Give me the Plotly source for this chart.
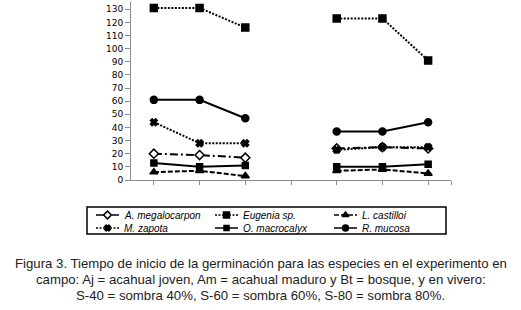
import plotly.graph_objects as go

# Categories (blank slot separates campo and vivero)
categories = ["Aj", "Am", "Bt", "", "S-40", "S-60", "S-80"]
y_ticks = [0, 10, 20, 30, 40, 50, 60, 70, 80, 90, 100, 110, 120, 130]

species = ["A. megalocarpon", "Eugenia sp.", "L. castilloi",
           "M. zapota", "O. macrocalyx", "R. mucosa"]

a_megalocarpon = [20, 19, 17, None, 24, 25, 24]
eugenia = [131, 131, 116, None, 123, 123, 91]
l_castilloi = [6, 7, 3, None, 7, 8, 5]
m_zapota = [44, 28, 28, None, 23, 25, 25]
o_macrocalyx = [13, 10, 11, None, 10, 10, 12]
r_mucosa = [61, 61, 47, None, 37, 37, 44]

values = [a_megalocarpon, eugenia, l_castilloi, m_zapota, o_macrocalyx, r_mucosa]

caption_lines = [
    "Figura 3. Tiempo de inicio de la germinación para las especies en el experimento en",
    "campo: Aj = acahual joven, Am = acahual maduro y Bt = bosque, y en vivero:",
    "S-40 = sombra 40%, S-60 = sombra 60%, S-80 = sombra 80%.",
]

styles = [
    dict(dash="8px,3px,2px,3px", symbol="diamond", mcolor="white", size=7),
    dict(dash="2px,1.5px", symbol="square", mcolor="black", size=7),
    dict(dash="5px,2px", symbol="triangle-up", mcolor="black", size=7),
    dict(dash="2px,1.5px", symbol="x", mcolor="black", size=6),
    dict(dash="solid", symbol="square", mcolor="black", size=6),
    dict(dash="solid", symbol="circle", mcolor="black", size=7),
]

x_pos = [i + 1 for i in range(len(categories))]

W, H = 521, 310
# plot area in pixels
PX0, PX1, PY0, PY1 = 131, 451, 2, 180
# legend box in pixels
LX0, LX1, LY0, LY1 = 87, 446, 207, 234

fig = go.Figure()
for name, vals, st in zip(species, values, styles):
    fig.add_trace(go.Scatter(
        x=x_pos, y=vals, name=name, mode="lines+markers",
        connectgaps=False, showlegend=False,
        line=dict(color="black", width=2, dash=st["dash"]),
        marker=dict(symbol=st["symbol"], color=st["mcolor"], size=st["size"],
                    line=dict(color="black", width=1.5)),
        xaxis="x", yaxis="y",
    ))

# manual legend (samples drawn on a pixel-scaled overlay axis)
col_off = [9, 128, 247]
row_y = [19, 6]
sample_len = 23
annotations = []
for i, (name, st) in enumerate(zip(species, styles)):
    c, r = i % 3, i // 3
    x0 = col_off[c]
    fig.add_trace(go.Scatter(
        x=[x0, x0 + sample_len / 2, x0 + sample_len], y=[row_y[r]] * 3,
        mode="lines+markers", showlegend=False, hoverinfo="skip",
        line=dict(color="black", width=1.5, dash=st["dash"]),
        marker=dict(symbol=st["symbol"], color=st["mcolor"], size=st["size"] - 1,
                    opacity=[0, 1, 0], line=dict(color="black", width=1.5)),
        xaxis="x2", yaxis="y2",
    ))
    annotations.append(dict(
        xref="x2", yref="y2", x=x0 + sample_len + 3, y=row_y[r],
        xanchor="left", yanchor="middle", showarrow=False,
        text="<i>" + name + "</i>",
        font=dict(family="Liberation Sans", size=10, color="black"),
    ))

cap_y = [263, 279, 295]
for line, yy in zip(caption_lines, cap_y):
    annotations.append(dict(
        xref="paper", yref="paper", x=0.5, y=1 - yy / H,
        xanchor="center", yanchor="middle", showarrow=False,
        text=line,
        font=dict(family="Liberation Sans", size=13.2, color="#222"),
    ))

fig.update_layout(
    width=W, height=H,
    margin=dict(l=0, r=0, t=0, b=0, pad=0, autoexpand=False),
    plot_bgcolor="white", paper_bgcolor="white",
    showlegend=False,
    xaxis=dict(
        domain=[PX0 / W, PX1 / W], anchor="y",
        range=[0.5, 7.5], showgrid=False, zeroline=False,
        showline=True, linecolor="#8c8c8c", linewidth=1,
        tickvals=x_pos + [7.5], showticklabels=False,
        ticks="outside", ticklen=4, tickcolor="#8c8c8c",
    ),
    yaxis=dict(
        domain=[1 - PY1 / H, 1 - PY0 / H], anchor="x",
        range=[0, 135.5], showgrid=False, zeroline=False,
        showline=True, linecolor="#8c8c8c", linewidth=1,
        tickvals=y_ticks, ticks="outside", ticklen=5, tickcolor="#8c8c8c",
        tickfont=dict(family="DejaVu Sans", size=9, color="black"),
    ),
    xaxis2=dict(
        domain=[LX0 / W, LX1 / W], anchor="y2",
        range=[0, LX1 - LX0], visible=False, fixedrange=True,
    ),
    yaxis2=dict(
        domain=[1 - LY1 / H, 1 - LY0 / H], anchor="x2",
        range=[0, LY1 - LY0], visible=False, fixedrange=True,
    ),
    shapes=[dict(
        type="rect", xref="paper", yref="paper",
        x0=LX0 / W, x1=LX1 / W, y0=1 - LY1 / H, y1=1 - LY0 / H,
        line=dict(color="black", width=1.5), fillcolor="rgba(0,0,0,0)",
        layer="below",
    )],
    annotations=annotations,
)

fig.write_html("out.html", config={"displayModeBar": False},
               post_script="document.body.style.margin='0';")
